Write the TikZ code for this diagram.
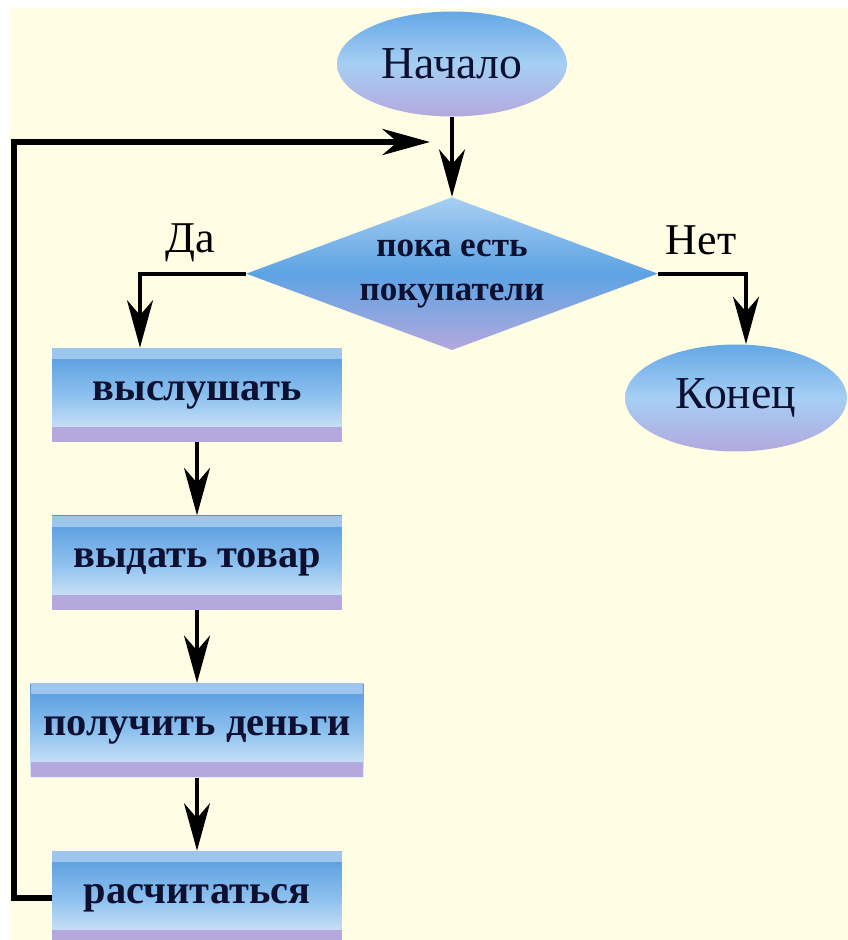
\documentclass[tikz,border=0pt]{standalone}
\usepackage{fontspec}
\setmainfont{Liberation Serif}
\usetikzlibrary{shapes.geometric, arrows.meta, positioning}
\definecolor{bgyel}{HTML}{FFFDE4}
\definecolor{ink}{HTML}{0D1030}
\definecolor{bxtop}{HTML}{5299DE}
\definecolor{bxmid}{HTML}{8CC0EE}
\definecolor{bxlow}{HTML}{E2EEFA}
\definecolor{bxhi}{HTML}{9CC6EE}
\definecolor{lav}{HTML}{B4A8DD}
\definecolor{ovtop}{HTML}{64A8E6}
\definecolor{ovmid}{HTML}{A6CFF3}
\definecolor{dmtop}{HTML}{A8CFF2}
\definecolor{dmmid}{HTML}{5DA3E3}
\tikzset{
  flow/.style={text=ink, inner sep=0pt},
  box/.style={flow, rectangle, minimum width=5.8cm, minimum height=1.88cm,
              font=\fontsize{23}{26}\selectfont\bfseries,
              top color=bxtop, bottom color=bxlow, middle color=bxmid,
              path picture={
                \fill[bxhi] (path picture bounding box.north west) rectangle ([yshift=-0.22cm]path picture bounding box.north east);
                \fill[lav] (path picture bounding box.south west) rectangle ([yshift=0.3cm]path picture bounding box.south east);
              }},
  wide/.style={box, minimum width=6.66cm},
  term/.style={flow, ellipse, font=\fontsize{26}{28}\selectfont,
               top color=ovtop, bottom color=lav, middle color=ovmid},
  cond/.style={flow, diamond, aspect=2.7, minimum width=8.24cm, minimum height=3.06cm,
               align=center, font=\fontsize{20}{25}\selectfont\bfseries,
               top color=dmtop, bottom color=lav, middle color=dmmid},
  lbl/.style={font=\fontsize{25}{28}\selectfont, text=black},
  arr/.style={-{Stealth[length=0.95cm, width=0.52cm, inset=0.3cm]}, line width=2.2pt},
  back/.style={arr, line width=3.6pt},
}
\begin{document}
\begin{tikzpicture}[x=0.02cm, y=-0.02cm]
  % page and background
  \useasboundingbox (0,0) rectangle (848,940);
  \fill[bgyel] (10,8) rectangle (848,940);
  % start and condition
  \node[term, minimum width=4.6cm, minimum height=2.1cm] (start) at (452,64) {Начало};
  \node[cond, below=1.6cm of start] (dec) {пока есть\\покупатели};
  \node[lbl] (yes) at (190,243) {Да};
  \node[lbl] (no) at (701,240) {Нет};
  % loop body
  \node[box] (listen) at (197,395) {выслушать};
  \node[box, below=1.46cm of listen] (give) {выдать товар};
  \node[wide, below=1.46cm of give] (money) {получить деньги};
  \node[box, below=1.46cm of money] (pay) {расчитаться};
  % end
  \node[term, minimum width=4.44cm, minimum height=2.14cm] (fin) at (736,398) {Конец};
  % arrows
  \draw[arr] (start) -- (dec);
  \draw[arr] (dec.west) -| ([xshift=-1.14cm]listen.north);
  \draw[arr] (dec.east) -| ([xshift=0.2cm]fin.north);
  \draw[arr] (listen) -- (give);
  \draw[arr] (give) -- (money);
  \draw[arr] (money) -- (pay);
  % back to the condition
  \coordinate (corner) at (14,142);
  \coordinate (loopin) at (430,142);
  \draw[back] (pay.west) -| (corner) -- (loopin);
\end{tikzpicture}
\end{document}
